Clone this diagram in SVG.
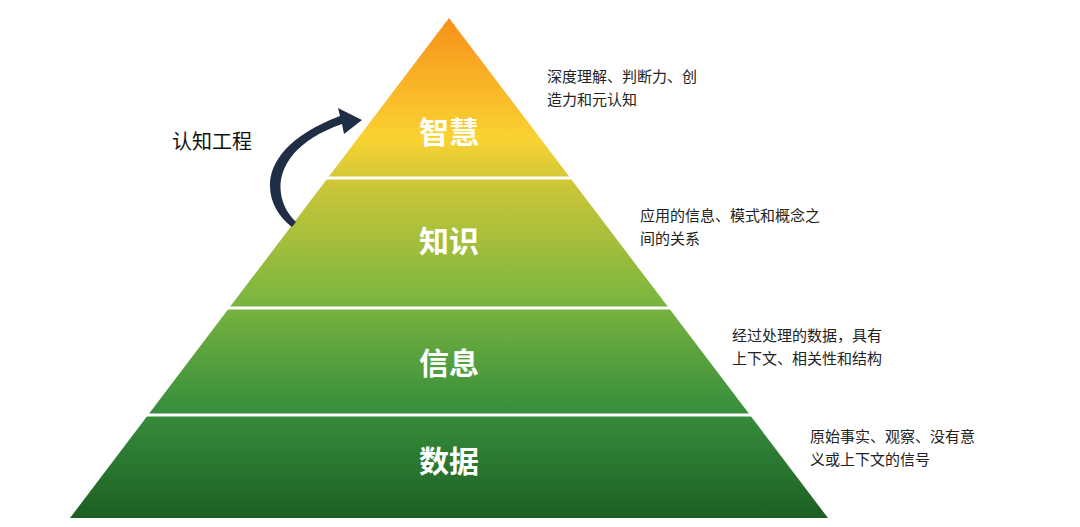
<svg xmlns="http://www.w3.org/2000/svg" width="1080" height="527" viewBox="0 0 1080 527">
<style>
.lbl{font-family:"Noto Sans CJK SC",sans-serif;font-size:30px;font-weight:bold;fill:#fff;text-anchor:middle}
.desc{font-family:"Noto Sans CJK SC",sans-serif;font-size:15px;fill:#222}
.sep{stroke:#fff;stroke-width:3}
</style>
<defs>
<linearGradient id="g" x1="0" y1="18" x2="0" y2="518" gradientUnits="userSpaceOnUse">
<stop offset="0" stop-color="#f7901a"/>
<stop offset="0.24" stop-color="#fad232"/>
<stop offset="0.34" stop-color="#c9c638"/>
<stop offset="0.56" stop-color="#7db63f"/>
<stop offset="0.78" stop-color="#398f3d"/>
<stop offset="1" stop-color="#1c5f22"/>
</linearGradient>
</defs>
<rect width="1080" height="527" fill="#fff"/>
<g id="pyramid">
<polygon points="449,18 828,518 70,518" fill="url(#g)"/>
</g>
<g id="connectors">
<line class="sep" x1="320" y1="178" x2="580" y2="178"/>
<line class="sep" x1="220" y1="308" x2="680" y2="308"/>
<line class="sep" x1="140" y1="415" x2="760" y2="415"/>
<path d="M292,227 C262,205 250,150 340,116 L338,108 L362,120 L344,134 L342,124 C268,150 272,200 296,222 Z" fill="#1f2d45"/>
</g>
<g id="wisdom"><text class="lbl" x="449" y="143">智慧</text><text class="desc" x="547" y="82">深度理解、判断力、创</text><text class="desc" x="547" y="105">造力和元认知</text></g>
<g id="knowledge"><text class="lbl" x="449" y="252">知识</text><text class="desc" x="640" y="221">应用的信息、模式和概念之</text><text class="desc" x="640" y="244">间的关系</text></g>
<g id="information"><text class="lbl" x="449" y="374">信息</text><text class="desc" x="732" y="341">经过处理的数据，具有</text><text class="desc" x="732" y="364">上下文、相关性和结构</text></g>
<g id="data"><text class="lbl" x="449" y="472">数据</text><text class="desc" x="810" y="442">原始事实、观察、没有意</text><text class="desc" x="810" y="465">义或上下文的信号</text></g>
<g id="cog"><text x="172" y="149" font-family="Noto Sans CJK SC,sans-serif" font-size="20" fill="#111">认知工程</text></g>
</svg>
